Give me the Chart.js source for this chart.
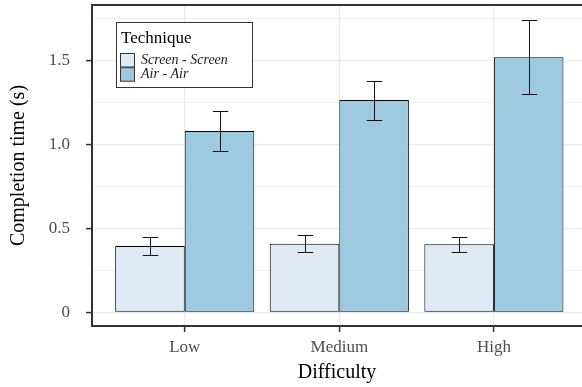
<!DOCTYPE html>
<html>
<head>
<meta charset="utf-8">
<script src="https://cdn.jsdelivr.net/npm/chart.js@4/dist/chart.umd.min.js"></script>
<style>
  html, body { margin: 0; padding: 0; background: #ffffff; }
  #wrap { width: 582px; height: 387px; position: relative; }
</style>
</head>
<body>
<div id="wrap"><canvas id="c" width="582" height="387"></canvas></div>
<script>
// ---- data ----
const categories = ['Low', 'Medium', 'High'];
const seriesNames = ['Screen - Screen', 'Air - Air'];
const screenMeans = [0.395, 0.408, 0.405];
const screenLower = [0.339, 0.357, 0.359];
const screenUpper = [0.450, 0.460, 0.446];
const airMeans = [1.079, 1.264, 1.518];
const airLower = [0.962, 1.146, 1.298];
const airUpper = [1.198, 1.379, 1.740];
const yMajorTicks = [0, 0.5, 1.0, 1.5];
const yMinorTicks = [0.25, 0.75, 1.25, 1.75];
const yTickLabels = ['0', '0.5', '1.0', '1.5'];
const legendTitle = 'Technique';
const xTitle = 'Difficulty';
const yTitle = 'Completion time (s)';

const FONT = "'Liberation Serif', 'DejaVu Serif', serif";
const colors = ['#deebf7', '#9ecae1'];
const lowers = [screenLower, airLower];
const uppers = [screenUpper, airUpper];
const means = [screenMeans, airMeans];

const isMajor = v => yMajorTicks.some(t => Math.abs(t - v) < 1e-9);

const errorBars = {
  id: 'errorBars',
  afterDatasetsDraw(chart) {
    const ctx = chart.ctx;
    const ys = chart.scales.y, xs = chart.scales.x;
    const half = (xs.getPixelForValue(1.05) - xs.getPixelForValue(1));
    ctx.save();
    ctx.strokeStyle = '#111111';
    ctx.lineWidth = 1;
    chart.data.datasets.forEach((ds, di) => {
      const meta = chart.getDatasetMeta(di);
      meta.data.forEach((bar, i) => {
        const x = Math.round(bar.x) + 0.5;
        const yl = Math.round(ys.getPixelForValue(lowers[di][i])) + 0.5;
        const yu = Math.round(ys.getPixelForValue(uppers[di][i])) + 0.5;
        ctx.beginPath();
        ctx.moveTo(x, yl); ctx.lineTo(x, yu);
        ctx.moveTo(x - half, yl); ctx.lineTo(x + half, yl);
        ctx.moveTo(x - half, yu); ctx.lineTo(x + half, yu);
        ctx.stroke();
      });
    });
    ctx.restore();
  }
};

const frameAndLegend = {
  id: 'frameAndLegend',
  afterDraw(chart) {
    const ctx = chart.ctx;
    const a = chart.chartArea;
    ctx.save();
    ctx.strokeStyle = '#333333';
    ctx.lineWidth = 2;
    ctx.beginPath();
    ctx.moveTo(a.left - 1, a.top);
    ctx.lineTo(a.right, a.top);
    ctx.stroke();
    const bx = 116, by = 22, bw = 136, bh = 65;
    ctx.fillStyle = '#ffffff';
    ctx.fillRect(bx, by, bw, bh);
    ctx.strokeStyle = '#333333';
    ctx.lineWidth = 1;
    ctx.strokeRect(bx + 0.5, by + 0.5, bw, bh);
    ctx.fillStyle = '#000000';
    ctx.font = '17px ' + FONT;
    ctx.textBaseline = 'alphabetic';
    ctx.textAlign = 'left';
    ctx.fillText(legendTitle, 121, 42.5);
    ctx.font = 'italic 14px ' + FONT;
    seriesNames.forEach((name, i) => {
      const ky = 53.5 + i * 14.2;
      ctx.fillStyle = colors[i];
      ctx.fillRect(120.5, ky, 14, 13.5);
      ctx.strokeStyle = '#333333';
      ctx.lineWidth = 1;
      ctx.strokeRect(120.5, ky, 14, 13.5);
      ctx.fillStyle = '#1a1a1a';
      ctx.textBaseline = 'middle';
      ctx.fillText(name, 141, ky + 7);
    });
    ctx.restore();
  }
};

const datasets = seriesNames.map((name, di) => ({
  label: name,
  data: categories.map((c, i) => ({ x: i + 1, y: means[di][i] })),
  backgroundColor: colors[di],
  borderColor: '#000000',
  borderWidth: 1,
  borderSkipped: false,
  categoryPercentage: 0.9,
  barPercentage: 1.0
}));

new Chart(document.getElementById('c'), {
  type: 'bar',
  data: { datasets },
  options: {
    responsive: false,
    animation: false,
    devicePixelRatio: 1,
    layout: { padding: { top: 5, right: 0, left: 0, bottom: 0 } },
    plugins: { legend: { display: false }, tooltip: { enabled: false } },
    scales: {
      x: {
        type: 'linear',
        offset: false,
        min: 0.4,
        max: 3.57,
        afterBuildTicks(scale) { scale.ticks = categories.map((c, i) => ({ value: i + 1 })); },
        afterFit(scale) { scale.height = 61; scale.paddingLeft = 0; scale.paddingRight = 0; },
        ticks: {
          callback: (v) => categories[Math.round(v) - 1],
          color: '#4d4d4d',
          font: { family: FONT, size: 17 },
          padding: 5,
          maxRotation: 0,
          autoSkip: false
        },
        grid: {
          offset: false,
          color: '#ebebeb',
          lineWidth: 1.2,
          tickColor: '#333333',
          tickWidth: 1.5,
          tickLength: 6
        },
        border: { display: true, color: '#333333', width: 2 },
        title: {
          display: true,
          text: xTitle,
          color: '#000000',
          font: { family: FONT, size: 20 },
          padding: { top: 0, bottom: 2 }
        }
      },
      y: {
        type: 'linear',
        min: -0.082,
        max: 1.829,
        afterBuildTicks(scale) {
          scale.ticks = yMajorTicks.concat(yMinorTicks).sort((p, q) => p - q).map(v => ({ value: v }));
        },
        afterFit(scale) { scale.width = 92; scale.paddingTop = 0; scale.paddingBottom = 0; },
        ticks: {
          callback: (v) => {
            const idx = yMajorTicks.findIndex(t => Math.abs(t - v) < 1e-9);
            return idx >= 0 ? yTickLabels[idx] : '';
          },
          color: '#4d4d4d',
          font: { family: FONT, size: 17 },
          padding: 16,
          autoSkip: false
        },
        grid: {
          color: '#ebebeb',
          lineWidth: (c) => (c.tick && isMajor(c.tick.value)) ? 1.2 : 0.8,
          tickColor: (c) => (c.tick && isMajor(c.tick.value)) ? '#333333' : 'rgba(0,0,0,0)',
          tickWidth: 1.5,
          tickLength: 6
        },
        border: { display: true, color: '#333333', width: 2 },
        title: {
          display: true,
          text: yTitle,
          color: '#000000',
          font: { family: FONT, size: 20 },
          padding: { top: 7, bottom: 0 }
        }
      }
    }
  },
  plugins: [errorBars, frameAndLegend]
});
</script>
</body>
</html>
